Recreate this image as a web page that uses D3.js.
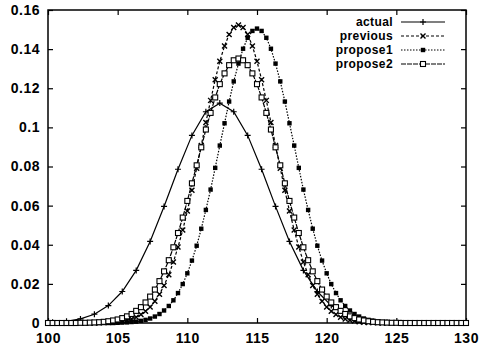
<!DOCTYPE html>
<html>
<head>
<meta charset="utf-8">
<script src="https://cdn.jsdelivr.net/npm/d3@7"></script>
<style>
  body { margin: 0; background: #fff; }
  text { font-family: "Liberation Sans", Arial, sans-serif; font-weight: bold; font-size: 14px; fill: #000; }
</style>
</head>
<body>
<script>
//chart size
var width = 480,
    height = 348;

//plot box (window.top is reserved, so use other names)
var boxLeft = 48, boxRight = 466, boxTop = 10, boxBottom = 323;

// x grid shared by previous / propose1 / propose2
var xs = [100,100.33,100.67,101,101.33,101.67,102,102.33,102.67,103,
  103.33,103.67,104,104.33,104.67,105,105.33,105.67,106,106.33,
  106.67,107,107.33,107.67,108,108.33,108.67,109,109.33,109.67,
  110,110.33,110.67,111,111.33,111.67,112,112.33,112.67,113,
  113.33,113.67,114,114.33,114.67,115,115.33,115.67,116,116.33,
  116.67,117,117.33,117.67,118,118.33,118.67,119,119.33,119.67,
  120,120.33,120.67,121,121.33,121.67,122,122.33,122.67,123,
  123.33,123.67,124,124.33,124.67,125,125.33,125.67,126,126.33,
  126.67,127,127.33,127.67,128,128.33,128.67,129,129.33,129.67,
  130];

var previous = [0,0,0,0,0,0,0,0,0,0,
  0,0.0001,0.0002,0.0003,0.0004,0.0006,0.0010,0.0014,0.0021,0.0030,
  0.0043,0.0060,0.0082,0.0111,0.0147,0.0192,0.0247,0.0312,0.0388,0.0475,
  0.0572,0.0678,0.0791,0.0907,0.1025,0.1138,0.1244,0.1338,0.1416,0.1475,
  0.1511,0.1523,0.1511,0.1475,0.1416,0.1338,0.1244,0.1138,0.1025,0.0907,
  0.0791,0.0678,0.0572,0.0475,0.0388,0.0312,0.0247,0.0192,0.0147,0.0111,
  0.0082,0.0060,0.0043,0.0030,0.0021,0.0014,0.0010,0.0006,0.0004,0.0003,
  0.0002,0.0001,0,0,0,0,0,0,0,0,
  0,0,0,0,0,0,0,0,0,0,
  0];

var propose1 = [0,0,0,0,0,0,0,0,0,0,
  0,0,0,0,0,0.0001,0.0002,0.0003,0.0005,0.0007,
  0.0011,0.0016,0.0023,0.0033,0.0046,0.0064,0.0087,0.0116,0.0153,0.0199,
  0.0254,0.0319,0.0395,0.0482,0.0578,0.0682,0.0793,0.0907,0.1021,0.1132,
  0.1235,0.1326,0.1402,0.1458,0.1493,0.1505,0.1493,0.1458,0.1402,0.1326,
  0.1235,0.1132,0.1021,0.0907,0.0793,0.0682,0.0578,0.0482,0.0395,0.0319,
  0.0254,0.0199,0.0153,0.0116,0.0087,0.0064,0.0046,0.0033,0.0023,0.0016,
  0.0011,0.0007,0.0005,0.0003,0.0002,0.0001,0,0,0,0,
  0,0,0,0,0,0,0,0,0,0,
  0];

var propose2 = [0,0,0,0,0,0,0,0.0001,0.0001,0.0002,
  0.0003,0.0004,0.0006,0.0009,0.0013,0.0018,0.0025,0.0034,0.0046,0.0062,
  0.0081,0.0105,0.0135,0.0171,0.0214,0.0264,0.0321,0.0387,0.0460,0.0539,
  0.0624,0.0714,0.0806,0.0898,0.0989,0.1074,0.1153,0.1221,0.1276,0.1318,
  0.1343,0.1352,0.1343,0.1318,0.1276,0.1221,0.1153,0.1074,0.0989,0.0898,
  0.0806,0.0714,0.0624,0.0539,0.0460,0.0387,0.0321,0.0264,0.0214,0.0171,
  0.0135,0.0105,0.0081,0.0062,0.0046,0.0034,0.0025,0.0018,0.0013,0.0009,
  0.0006,0.0004,0.0003,0.0002,0.0001,0.0001,0,0,0,0,
  0,0,0,0,0,0,0,0,0,0,
  0];

// actual is sampled once per unit
var actualX = [100.33,101.33,102.33,103.33,104.33,105.33,106.33,107.33,108.33,109.33,
  110.33,111.33,112.33,113.33,114.33,115.33,116.33,117.33,118.33,119.33,
  120.33,121.33,122.33,123.33,124.33,125.33,126.33,127.33,128.33,129.33];
var actual = [0.0004,0.0009,0.0021,0.0045,0.0089,0.0161,0.0269,0.0417,0.0596,0.0786,
  0.0959,0.1080,0.1124,0.1080,0.0959,0.0786,0.0596,0.0417,0.0269,0.0161,
  0.0089,0.0045,0.0021,0.0009,0.0004,0.0001,0,0,0,0];

var seriesNames = ["actual", "previous", "propose1", "propose2"];
var xTicks = [100, 105, 110, 115, 120, 125, 130];
var yTicks = [0, 0.02, 0.04, 0.06, 0.08, 0.1, 0.12, 0.14, 0.16];

var x = d3.scaleLinear().domain([100, 130]).range([boxLeft, boxRight]);
var y = d3.scaleLinear().domain([0, 0.16]).range([boxBottom, boxTop]);

var svg = d3.select("body").append("svg")
    .attr("width", width)
    .attr("height", height);

//axes, gnuplot style ticks pointing in, mirrored
svg.append("g")
    .attr("transform", "translate(0," + boxBottom + ")")
    .call(d3.axisBottom(x).tickValues(xTicks).tickSize(-5).tickPadding(10).tickFormat(d3.format("d")));
svg.append("g")
    .attr("transform", "translate(0," + boxTop + ")")
    .call(d3.axisTop(x).tickValues(xTicks).tickSize(-5).tickFormat(""));
svg.append("g")
    .attr("transform", "translate(" + boxLeft + ",0)")
    .call(d3.axisLeft(y).tickValues(yTicks).tickSize(-5).tickPadding(8)
      .tickFormat(function(d){ return d === 0 ? "0" : String(+d.toFixed(2)); }));
svg.append("g")
    .attr("transform", "translate(" + boxRight + ",0)")
    .call(d3.axisRight(y).tickValues(yTicks).tickSize(-5).tickFormat(""));

svg.selectAll(".domain").remove();
svg.selectAll(".tick line").attr("stroke", "#000").attr("stroke-width", 1.2);
svg.selectAll(".tick text").attr("fill", "#000")
    .style("font-family", '"Liberation Sans", Arial, sans-serif')
    .style("font-size", "14px").style("font-weight", "bold")
    .style("letter-spacing", "0.5px");

svg.append("rect")
    .attr("x", boxLeft).attr("y", boxTop)
    .attr("width", boxRight - boxLeft).attr("height", boxBottom - boxTop)
    .attr("fill", "none").attr("stroke", "#000").attr("stroke-width", 1.5);

var dashes = {actual: null, previous: "3,2", propose1: "1.5,1.5", propose2: "5,1"};

function pts(xv, yv) {
  return xv.map(function(d, i){ return [d, yv[i]]; });
}
var series = [
  {name: "actual", data: pts(actualX, actual)},
  {name: "previous", data: pts(xs, previous)},
  {name: "propose1", data: pts(xs, propose1)},
  {name: "propose2", data: pts(xs, propose2)}
];

var line = d3.line().x(function(d){ return x(d[0]); }).y(function(d){ return y(d[1]); });

function marker(g, name, cx, cy) {
  if (name == "actual") {
    g.append("path").attr("d", "M" + (cx-3) + "," + cy + "h6M" + cx + "," + (cy-3) + "v6")
      .attr("stroke", "#000").attr("stroke-width", 1.2);
  } else if (name == "previous") {
    g.append("path").attr("d", "M" + (cx-2.5) + "," + (cy-2.5) + "l5,5M" + (cx-2.5) + "," + (cy+2.5) + "l5,-5")
      .attr("stroke", "#000").attr("stroke-width", 1.4);
  } else if (name == "propose1") {
    g.append("rect").attr("x", cx-2.2).attr("y", cy-2.2).attr("width", 4.4).attr("height", 4.4)
      .attr("fill", "#000");
  } else {
    g.append("rect").attr("x", cx-2.5).attr("y", cy-2.5).attr("width", 5).attr("height", 5)
      .attr("fill", "#fff").attr("stroke", "#000").attr("stroke-width", 1.1);
  }
}

var plot = svg.append("g");
series.forEach(function(s) {
  plot.append("path")
    .datum(s.data)
    .attr("d", line)
    .attr("fill", "none")
    .attr("stroke", "#000")
    .attr("stroke-width", 1.2)
    .attr("stroke-dasharray", dashes[s.name]);
  var mg = plot.append("g");
  s.data.forEach(function(d){ marker(mg, s.name, x(d[0]), y(d[1])); });
});

// legend
var legend = svg.append("g");
seriesNames.forEach(function(name, i) {
  var ly = 22 + i * 14;
  legend.append("text")
    .attr("x", 393).attr("y", ly).attr("dy", "0.35em")
    .attr("text-anchor", "end")
    .style("font-size", "12px")
    .style("letter-spacing", "0.4px")
    .text(name);
  legend.append("line")
    .attr("x1", 401).attr("x2", 445).attr("y1", ly).attr("y2", ly)
    .attr("stroke", "#000").attr("stroke-width", 1.2)
    .attr("stroke-dasharray", dashes[name]);
  marker(legend, name, 423, ly);
});
</script>
</body>
</html>
